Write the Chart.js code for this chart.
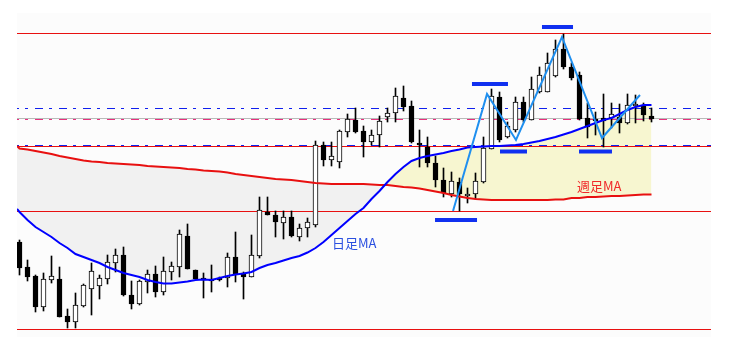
<!DOCTYPE html>
<html>
<head>
<meta charset="utf-8">
<script src="https://cdn.jsdelivr.net/npm/chart.js@4/dist/chart.umd.min.js"></script>
<style>
  html, body { margin: 0; padding: 0; background: #fff; }
  canvas { display: block; }
</style>
</head>
<body>
<canvas id="chart" width="731" height="341"></canvas>
<script>
// daily candles, oldest first
const opens = [101.99,101.74,101.65,101.34,101.61,101.62,101.25,101.19,101.35,101.52,
  101.55,101.62,101.78,101.86,101.46,101.37,101.59,101.67,101.49,101.69,
  101.74,102.05,101.71,101.63,101.62,101.63,101.63,101.84,101.68,101.64,
  101.85,102.29,102.26,102.18,102.24,102.04,102.13,102.16,102.96,102.81,
  102.79,103.09,103.21,103.10,102.99,103.06,103.24,103.28,103.43,103.35,
  102.98,102.94,102.78,102.61,102.47,102.59,102.45,102.47,102.59,102.92,
  103.44,103.04,103.11,103.39,103.21,103.49,103.49,103.65,103.92,103.74,
  103.66,103.23,103.21,103.23,103.23,103.24,103.18,103.35,103.36,103.25];
const highs = [102.01,101.81,101.66,101.68,101.85,101.74,101.32,101.48,101.57,101.78,
  101.66,101.86,101.92,101.94,101.60,101.61,101.71,101.75,101.84,101.79,
  102.11,102.17,101.71,101.68,101.76,101.64,101.88,102.09,101.69,102.06,
  102.44,102.44,102.30,102.30,102.30,102.17,102.23,103.00,102.99,102.99,
  103.11,103.27,103.33,103.15,103.11,103.25,103.33,103.53,103.55,103.40,
  103.11,103.04,102.85,102.73,102.69,102.63,102.53,102.68,103.04,103.52,
  103.49,103.19,103.44,103.44,103.64,103.74,103.88,104.01,104.07,103.78,
  103.69,103.38,103.29,103.47,103.38,103.37,103.47,103.46,103.38,103.33];
const lows = [101.66,101.60,101.29,101.30,101.58,101.24,101.13,101.13,101.34,101.26,
  101.42,101.57,101.69,101.45,101.32,101.36,101.48,101.44,101.46,101.61,
  101.64,101.72,101.62,101.43,101.49,101.60,101.54,101.59,101.42,101.64,
  101.83,102.26,102.04,102.02,102.04,102.00,102.04,102.14,102.75,102.75,
  102.73,103.04,103.08,102.84,102.96,102.94,103.19,103.19,103.30,102.98,
  102.74,102.74,102.54,102.44,102.44,102.30,102.38,102.42,102.58,102.92,
  102.99,103.03,103.09,103.19,103.21,103.48,103.49,103.64,103.72,103.61,
  103.21,103.03,103.06,102.94,103.13,103.08,103.17,103.18,103.20,103.19];
const closes = [101.73,101.64,101.34,101.62,101.65,101.24,101.19,101.36,101.56,101.70,
  101.63,101.79,101.86,101.46,101.37,101.60,101.67,101.49,101.70,101.75,
  102.07,101.72,101.62,101.61,101.60,101.61,101.84,101.67,101.64,101.86,
  102.31,102.26,102.19,102.24,102.05,102.13,102.19,102.96,102.81,102.85,
  103.10,103.22,103.09,102.99,103.06,103.20,103.28,103.45,103.34,102.99,
  102.96,102.78,102.61,102.48,102.60,102.47,102.47,102.60,102.93,103.45,
  103.01,103.15,103.39,103.21,103.52,103.66,103.78,103.92,103.74,103.63,
  103.22,103.14,103.20,103.20,103.27,103.18,103.36,103.37,103.26,103.22];

// moving averages; first value sits at the left edge of the plot
const dailyMA = [102.32,
  102.29,102.21,102.14,102.09,102.04,101.98,101.93,101.87,101.84,101.81,
  101.78,101.74,101.71,101.68,101.66,101.64,101.61,101.59,101.575,101.575,
  101.585,101.595,101.61,101.615,101.61,101.63,101.65,101.665,101.675,101.69,
  101.73,101.76,101.78,101.805,101.83,101.85,101.885,101.93,101.99,102.06,
  102.13,102.20,102.27,102.33,102.42,102.50,102.59,102.67,102.74,102.80,
  102.83,102.85,102.865,102.88,102.90,102.915,102.935,102.94,102.945,102.95,
  102.95,102.955,102.96,102.97,102.985,103.00,103.02,103.04,103.065,103.09,
  103.12,103.15,103.18,103.21,103.23,103.27,103.31,103.34,103.36,103.36];
const weeklyMA = [102.95,
  102.925,102.915,102.90,102.885,102.87,102.85,102.835,102.82,102.805,102.795,
  102.79,102.78,102.775,102.77,102.765,102.76,102.75,102.745,102.74,102.735,
  102.73,102.72,102.715,102.705,102.70,102.695,102.685,102.67,102.66,102.65,
  102.64,102.63,102.62,102.615,102.61,102.60,102.59,102.58,102.575,102.57,
  102.57,102.57,102.57,102.57,102.565,102.56,102.56,102.55,102.54,102.535,
  102.525,102.51,102.495,102.48,102.46,102.445,102.43,102.42,102.415,102.41,
  102.41,102.41,102.41,102.41,102.41,102.41,102.41,102.415,102.415,102.43,
  102.43,102.44,102.44,102.445,102.45,102.45,102.455,102.46,102.465,102.465];

// horizontal price levels
const redLevels = [104.075, 102.945, 102.295, 101.115];
const blueDashLevels = [103.325, 102.955];
const grayLevel = 103.225;
const pinkDashLevel = 103.215;

// zigzag (bar position, price)
const zigzagX = [54.19, 58.44, 62.06, 67.81, 72.81, 77.56];
const zigzagY = [102.30, 103.47, 103.01, 104.04, 103.03, 103.46];

// short high/low markers: [from bar, to bar, price]
const markers = [
  [65.31, 69.19, 104.14],
  [56.56, 61.06, 103.57],
  [60.06, 63.44, 102.895],
  [69.94, 74.06, 102.895],
  [51.94, 57.19, 102.21],
];

const xMin = -0.3125;
const xMax = 86.4375;
const idx = opens.map((_, i) => i);
const maX = [xMin].concat(idx);

const RED = '#e81010';
const BLUE = '#0000ff';

const datasets = [];

datasets.push({
  type: 'line', label: 'daily', order: 20,
  data: maX.map((x, i) => ({ x, y: dailyMA[i] })),
  borderColor: BLUE, borderWidth: 2, pointRadius: 0, fill: false,
});
datasets.push({
  type: 'line', label: 'weekly', order: 21,
  data: maX.map((x, i) => ({ x, y: weeklyMA[i] })),
  borderColor: RED, borderWidth: 2, pointRadius: 0,
  fill: { target: 0, above: '#f1f1f1', below: 'rgb(247,246,208)' },
});

function hLine(y, color, dash) {
  return {
    type: 'line', order: 50,
    data: [{ x: xMin, y }, { x: xMax, y }],
    borderColor: color, borderWidth: 1, pointRadius: 0, fill: false,
    borderDash: dash || [], borderDashOffset: 6,
  };
}
datasets.push(hLine(grayLevel, '#b9b9b9'));
datasets.push(hLine(pinkDashLevel, '#e8307e', [8, 6, 3, 7]));
blueDashLevels.forEach(v => datasets.push(hLine(v, '#1020ee', [8, 6, 3, 7])));
redLevels.forEach(v => datasets.push(hLine(v, RED)));

datasets.push({
  type: 'bar', order: 40, grouped: false,
  data: idx.map(i => ({ x: i, y: [lows[i], highs[i]] })),
  backgroundColor: '#000', borderWidth: 0, barThickness: 1,
});
datasets.push({
  type: 'bar', order: 30, grouped: false,
  data: idx.map(i => ({ x: i, y: [opens[i], closes[i]] })),
  backgroundColor: ctx => closes[ctx.dataIndex] >= opens[ctx.dataIndex] ? '#fff' : '#000',
  borderColor: '#000', borderWidth: 1, borderSkipped: false, barThickness: 5,
  minBarLength: 2,
});

datasets.push({
  type: 'line', order: 10,
  data: zigzagX.map((x, i) => ({ x, y: zigzagY[i] })),
  borderColor: '#1f8fef', borderWidth: 2, pointRadius: 0, fill: false,
});
markers.forEach(m => datasets.push({
  type: 'line', order: 5,
  data: [{ x: m[0], y: m[2] }, { x: m[1], y: m[2] }],
  borderColor: '#1030f0', borderWidth: 4, borderCapStyle: 'butt', pointRadius: 0, fill: false,
}));

const labelTexts = [
  { text: '日足MA', x: 39.06, y: 101.93, color: '#2a4fe0' },
  { text: '週足MA', x: 69.69, y: 102.50, color: '#f02828' },
];

const plotBackground = {
  id: 'plotBackground',
  beforeDraw(chart) {
    const a = chart.chartArea;
    const c = chart.ctx;
    c.save();
    c.fillStyle = '#fcfcfc';
    c.fillRect(a.left, a.top, a.right - a.left, a.bottom - a.top);
    c.restore();
  },
};

const maLabels = {
  id: 'maLabels',
  afterDatasetsDraw(chart) {
    const c = chart.ctx;
    const xs = chart.scales.x, ys = chart.scales.y;
    c.save();
    c.font = '13px "Noto Sans CJK JP", sans-serif';
    c.textBaseline = 'alphabetic';
    labelTexts.forEach(l => {
      c.fillStyle = l.color;
      c.fillText(l.text, xs.getPixelForValue(l.x), ys.getPixelForValue(l.y));
    });
    c.restore();
  },
};

new Chart(document.getElementById('chart'), {
  type: 'bar',
  data: { datasets },
  options: {
    responsive: false,
    animation: false,
    devicePixelRatio: 1,
    layout: { padding: { left: 17, right: 20, top: 13, bottom: 4 } },
    scales: {
      x: { type: 'linear', min: xMin, max: xMax, offset: false, display: false },
      y: { type: 'linear', min: 101.04, max: 104.28, display: false },
    },
    plugins: {
      legend: { display: false },
      tooltip: { enabled: false },
      filler: { drawTime: 'beforeDatasetsDraw' },
    },
  },
  plugins: [plotBackground, maLabels],
});
</script>
</body>
</html>
